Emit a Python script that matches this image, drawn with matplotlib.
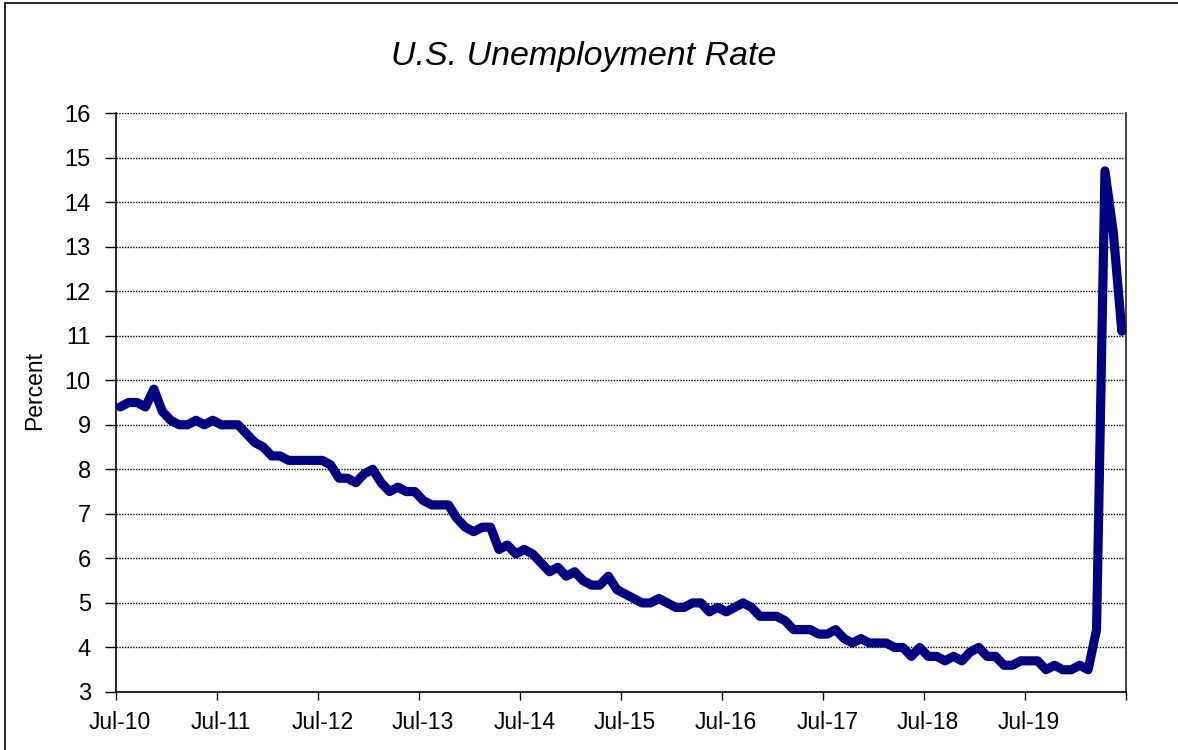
import matplotlib
matplotlib.use("Agg")
import matplotlib.pyplot as plt
from matplotlib.patches import Rectangle
import numpy as np

plt.rcParams["font.family"] = ["Liberation Sans", "DejaVu Sans"]

# Monthly unemployment rate, Jul 2010 .. Jun 2020 (percent)
rate_2010 = [9.4, 9.5, 9.5, 9.4, 9.8, 9.3]
rate_2011 = [9.1, 9.0, 9.0, 9.1, 9.0, 9.1, 9.0, 9.0, 9.0, 8.8, 8.6, 8.5]
rate_2012 = [8.3, 8.3, 8.2, 8.2, 8.2, 8.2, 8.2, 8.1, 7.8, 7.8, 7.7, 7.9]
rate_2013 = [8.0, 7.7, 7.5, 7.6, 7.5, 7.5, 7.3, 7.2, 7.2, 7.2, 6.9, 6.7]
rate_2014 = [6.6, 6.7, 6.7, 6.2, 6.3, 6.1, 6.2, 6.1, 5.9, 5.7, 5.8, 5.6]
rate_2015 = [5.7, 5.5, 5.4, 5.4, 5.6, 5.3, 5.2, 5.1, 5.0, 5.0, 5.1, 5.0]
rate_2016 = [4.9, 4.9, 5.0, 5.0, 4.8, 4.9, 4.8, 4.9, 5.0, 4.9, 4.7, 4.7]
rate_2017 = [4.7, 4.6, 4.4, 4.4, 4.4, 4.3, 4.3, 4.4, 4.2, 4.1, 4.2, 4.1]
rate_2018 = [4.1, 4.1, 4.0, 4.0, 3.8, 4.0, 3.8, 3.8, 3.7, 3.8, 3.7, 3.9]
rate_2019 = [4.0, 3.8, 3.8, 3.6, 3.6, 3.7, 3.7, 3.7, 3.5, 3.6, 3.5, 3.5]
rate_2020 = [3.6, 3.5, 4.4, 14.7, 13.3, 11.1]

rates = (rate_2010 + rate_2011 + rate_2012 + rate_2013 + rate_2014 + rate_2015
         + rate_2016 + rate_2017 + rate_2018 + rate_2019 + rate_2020)

year_labels = ["Jul-10", "Jul-11", "Jul-12", "Jul-13", "Jul-14",
               "Jul-15", "Jul-16", "Jul-17", "Jul-18", "Jul-19"]
y_ticks = list(range(3, 17))

W, H = 1178, 750
fig = plt.figure(figsize=(W / 100, H / 100), dpi=100)
ax = fig.add_axes([116 / W, 1 - 692 / H, (1126 - 116) / W, (692 - 113) / H])

# categories sit between tick marks (Excel style)
x = np.arange(len(rates)) + 0.5
ax.plot(x, rates, color="#000080", lw=6.6, solid_joinstyle="round",
        solid_capstyle="round", zorder=3, clip_on=False)

ax.set_xlim(0, len(rates))
ax.set_ylim(3, 16)

ax.set_yticks(y_ticks)
ax.set_yticklabels([str(v) for v in y_ticks], fontsize=17)
ax.tick_params(axis="y", direction="out", length=8, width=1, pad=10)

ax.set_xticks(np.arange(0, len(rates) + 1, 12))
ax.set_xticklabels([])
ax.tick_params(axis="x", which="major", direction="out", length=6, width=1)
ax.set_xticks(np.arange(len(year_labels)) * 12 + 0.5, minor=True)
ax.set_xticklabels(year_labels, minor=True, fontsize=16.5)
ax.tick_params(axis="x", which="minor", length=0, pad=14)

ax.grid(axis="y", color="#000000", linestyle=(0, (1, 1)), lw=1.0)
ax.set_axisbelow(True)
ax.spines["top"].set_visible(False)
ax.spines["left"].set_linewidth(1.2)
ax.spines["bottom"].set_linewidth(1.2)
ax.spines["right"].set_color("#333333")
ax.spines["right"].set_linewidth(1.3)

fig.text(584 / W, 1 - 56 / H, "U.S. Unemployment Rate", fontsize=24.5,
         style="italic", ha="center", va="center")
fig.text(35 / W, 1 - 391 / H, "Percent", fontsize=16.5, rotation=90,
         ha="center", va="center")

# outer chart border (runs off the right and bottom edges)
fig.patches.append(Rectangle((5 / W, -0.1), 1.2, 1.1 - 3 / H, transform=fig.transFigure,
                             fill=False, edgecolor="#111111", lw=1.3))

fig.savefig("out.png", dpi=100)
